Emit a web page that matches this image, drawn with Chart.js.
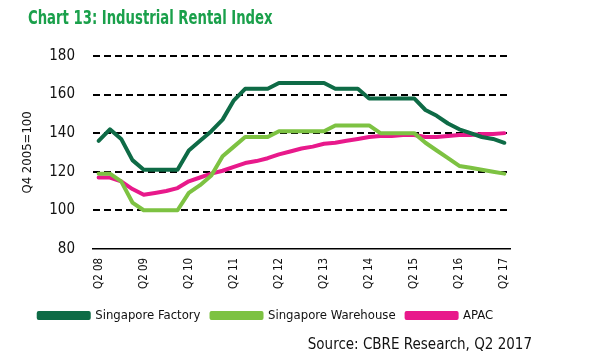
<!DOCTYPE html>
<html>
<head>
<meta charset="utf-8">
<script src="https://cdn.jsdelivr.net/npm/chart.js@4/dist/chart.umd.min.js"></script>
<style>
  html, body { margin: 0; padding: 0; background: #fff; }
  #wrap { position: relative; width: 600px; height: 360px; }
  #title {
    position: absolute; left: 28px; top: 5px;
    font-family: 'DejaVu Sans Condensed', sans-serif;
    font-weight: bold; font-size: 20px; color: #1aa04b;
    transform: scaleX(0.735); transform-origin: 0 0;
    white-space: nowrap;
  }
</style>
</head>
<body>
<div id="wrap">
  <div id="title">Chart 13: Industrial Rental Index</div>
  <canvas id="chart"></canvas>
</div>
<script>
// quarterly, Q2 08 .. Q2 17
const quarters = [
  "Q2 08", "Q3 08", "Q4 08", "Q1 09", "Q2 09", "Q3 09", "Q4 09", "Q1 10",
  "Q2 10", "Q3 10", "Q4 10", "Q1 11", "Q2 11", "Q3 11", "Q4 11", "Q1 12",
  "Q2 12", "Q3 12", "Q4 12", "Q1 13", "Q2 13", "Q3 13", "Q4 13", "Q1 14",
  "Q2 14", "Q3 14", "Q4 14", "Q1 15", "Q2 15", "Q3 15", "Q4 15", "Q1 16",
  "Q2 16", "Q3 16", "Q4 16", "Q1 17", "Q2 17"
];

const factory = [
  136, 142, 137, 126, 121, 121, 121, 121, 131, 136, 141, 147, 157,
  163, 163, 163, 166, 166, 166, 166, 166, 163, 163, 163, 158, 158,
  158, 158, 158, 152, 149, 145, 142, 140, 138, 137, 135
];

const warehouse = [
  119, 119, 115, 104, 100, 100, 100, 100, 109, 113, 118, 128, 133,
  138, 138, 138, 141, 141, 141, 141, 141, 144, 144, 144, 144, 140,
  140, 140, 140, 135, 131, 127, 123, 122, 121, 120, 119
];

const apac = [
  117, 117, 115, 111, 108, 109, 110, 111.5, 115, 117, 119, 120.5, 122.5,
  124.5, 125.5, 127, 129, 130.5, 132, 133, 134.5, 135, 136, 137, 138, 138.5,
  138.5, 139, 139, 138, 138, 138.5, 139, 139, 139.5, 139.5, 140
];

const yTicks = [80, 100, 120, 140, 160, 180];

const FONT = "'DejaVu Sans Condensed', sans-serif";

const ctx = document.getElementById("chart");

function line(label, data, color) {
  return {
    label: label,
    data: data,
    borderColor: color,
    backgroundColor: color,
    borderWidth: 4,
    borderCapStyle: "round",
    borderJoinStyle: "round",
    pointRadius: 0,
    tension: 0,
    fill: false
  };
}

new Chart(ctx, {
  type: "line",
  data: {
    labels: quarters,
    datasets: [
      line("Singapore Factory", factory, "#0e6b46"),
      line("Singapore Warehouse", warehouse, "#7dc242"),
      line("APAC", apac, "#e8198b")
    ]
  },
  options: {
    responsive: true,
    maintainAspectRatio: false,
    animation: false,
    layout: { padding: { left: 0, right: 68, top: 56, bottom: 6 } },
    scales: {
      x: {
        offset: true,
        // grid has to be on for the border line to be drawn
        grid: {
          display: true,
          drawOnChartArea: false,
          drawTicks: false,
          color: "rgba(0,0,0,0)"
        },
        border: { display: true, color: "#000", width: 1.5 },
        ticks: {
          autoSkip: false,
          maxRotation: 90,
          minRotation: 90,
          padding: 9,
          color: "#111",
          font: { family: FONT, size: 11.5 },
          callback: function (value, index) {
            return index % 4 === 0 ? quarters[index] : "";
          }
        }
      },
      y: {
        min: yTicks[0],
        max: yTicks[yTicks.length - 1],
        afterBuildTicks: function (axis) {
          axis.ticks = yTicks.map(v => ({ value: v }));
        },
        afterFit: function (axis) {
          axis.width = 93;
        },
        border: { display: false, dash: [7, 4] },
        grid: {
          drawTicks: false,
          lineWidth: 2,
          color: function (c) {
            return c.tick && c.tick.value === 80 ? "rgba(0,0,0,0)" : "#000";
          }
        },
        ticks: {
          padding: 18,
          color: "#111",
          font: { family: FONT, size: 15 }
        },
        title: {
          display: true,
          text: "Q4 2005=100",
          color: "#111",
          padding: { top: 20, bottom: 0 },
          font: { family: FONT, size: 13 }
        }
      },
      // keeps the plot narrower than the legend / source line
      spacer: {
        type: "linear",
        position: "right",
        grid: { display: false, drawTicks: false },
        border: { display: false },
        ticks: { display: false },
        afterFit: function (axis) {
          axis.width = 22;
        }
      }
    },
    plugins: {
      subtitle: {
        display: true,
        position: "bottom",
        align: "end",
        text: "Source: CBRE Research, Q2 2017",
        color: "#111",
        padding: { top: 4, bottom: 0 },
        font: { family: FONT, size: 15 }
      },
      legend: {
        position: "bottom",
        align: "center",
        labels: {
          boxWidth: 50,
          boxHeight: 5,
          padding: 11,
          color: "#111",
          font: { family: FONT, size: 13 }
        }
      },
      tooltip: { enabled: false }
    }
  }
});
</script>
</body>
</html>
